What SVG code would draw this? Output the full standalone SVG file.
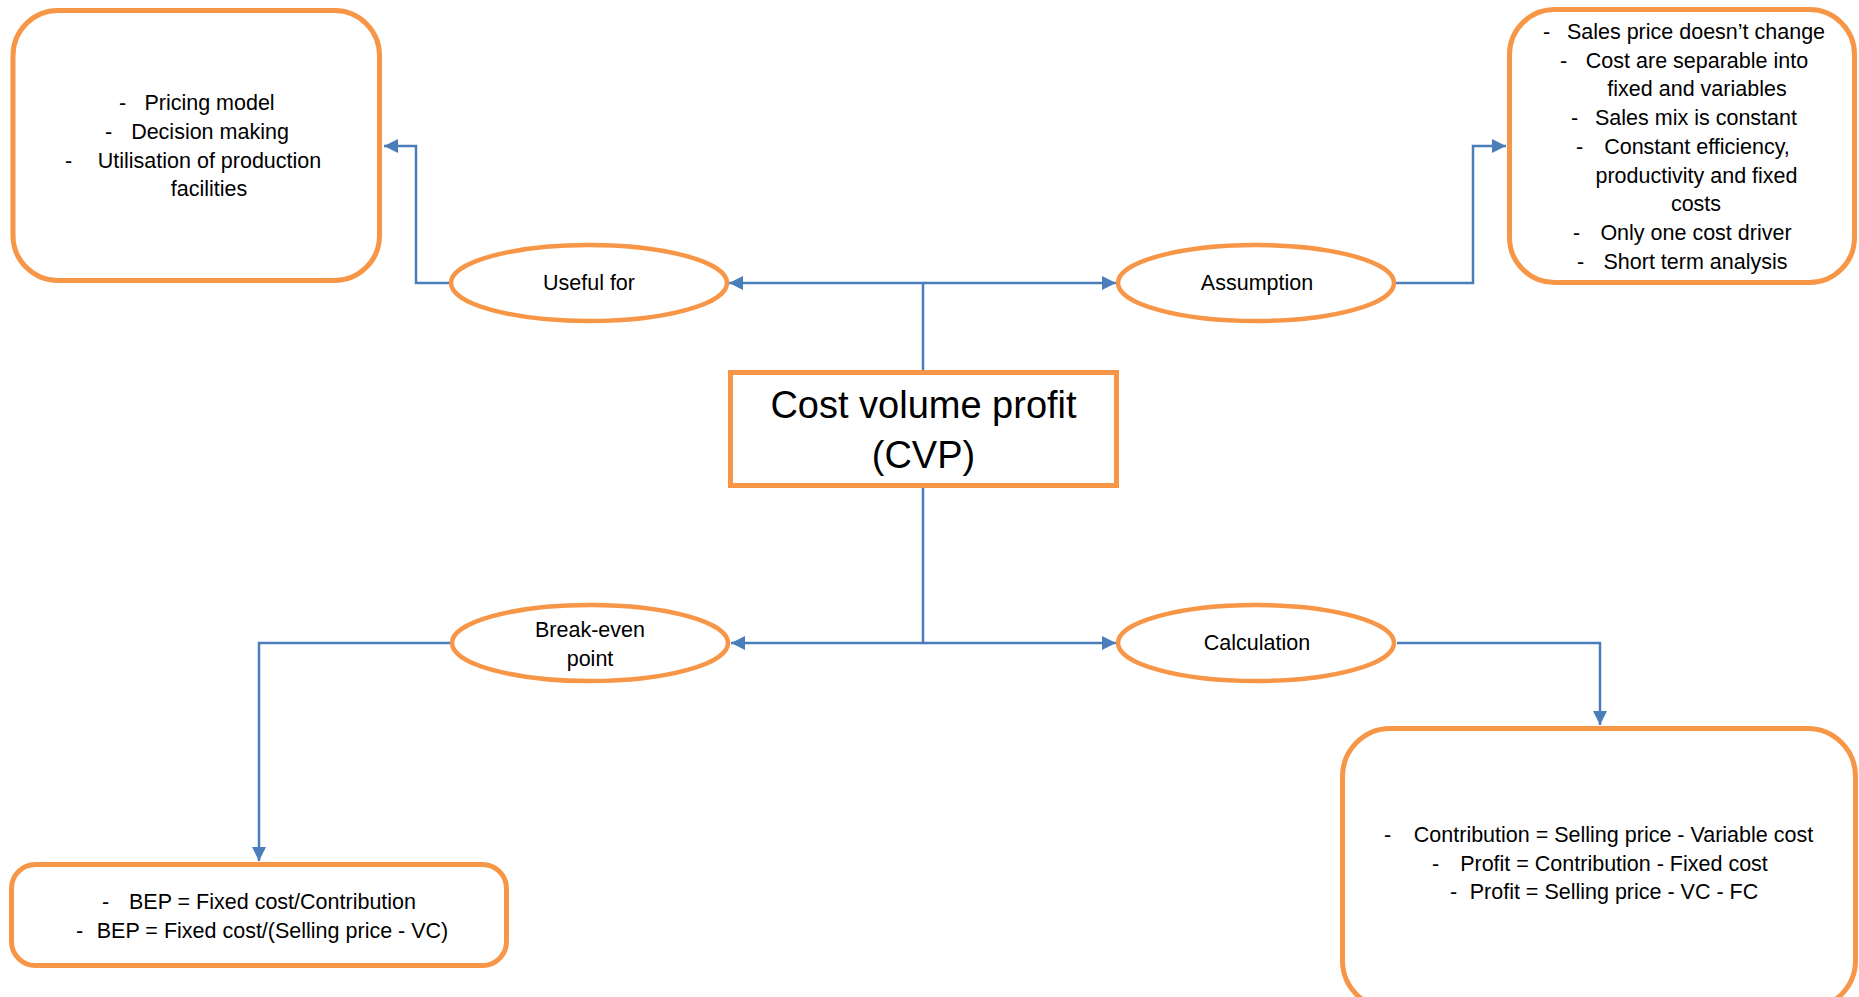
<svg xmlns="http://www.w3.org/2000/svg" width="1859" height="997" viewBox="0 0 1859 997">
<defs>
<style>
.box{fill:#fff;stroke:#F79646;stroke-width:5}
.ell{fill:#fff;stroke:#F79646;stroke-width:4.5}
.con{fill:none;stroke:#4A7EBB;stroke-width:2.5;marker-end:url(#arr)}
text{font-family:"Liberation Sans",Arial,sans-serif;font-size:21.5px;fill:#000}
.m{text-anchor:middle}
.big{font-size:38px}
</style>
<marker id="arr" viewBox="0 0 10 10" refX="10" refY="5" markerWidth="14" markerHeight="14" markerUnits="userSpaceOnUse" orient="auto">
<path d="M0,0 L10,5 L0,10 z" fill="#4A7EBB"/>
</marker>
</defs>
<rect width="1859" height="997" fill="#fff"/>
<g id="connectors">
<path class="con" d="M923,370 V283 H729"/>
<path class="con" d="M923,283 H1116"/>
<path class="con" d="M449,283 H416 V146 H384"/>
<path class="con" d="M1396,283 H1473 V146 H1506"/>
<path class="con" d="M923,488 V643 H731"/>
<path class="con" d="M923,643 H1116"/>
<path class="con" d="M451,643 H259 V861"/>
<path class="con" d="M1397,643 H1600 V725"/>
</g>
<g id="useful-box">
<rect class="box" x="13" y="10.5" width="366.5" height="270" rx="45"/>
<text x="119" y="110">-</text>
<text class="m" x="209.5" y="110">Pricing model</text>
<text x="105" y="139">-</text>
<text class="m" x="210" y="139">Decision making</text>
<text x="65" y="168">-</text>
<text class="m" x="209.5" y="168">Utilisation of production</text>
<text class="m" x="209" y="196">facilities</text>
</g>
<g id="assumption-box">
<rect class="box" x="1509.5" y="9.5" width="345" height="273" rx="45"/>
<text x="1543" y="39">-</text>
<text class="m" x="1696" y="39">Sales price doesn’t change</text>
<text x="1560" y="68">-</text>
<text class="m" x="1697" y="68">Cost are separable into</text>
<text class="m" x="1697" y="96">fixed and variables</text>
<text x="1571" y="125">-</text>
<text class="m" x="1696" y="125">Sales mix is constant</text>
<text x="1576" y="154">-</text>
<text class="m" x="1697" y="154">Constant efficiency,</text>
<text class="m" x="1696.5" y="183">productivity and fixed</text>
<text class="m" x="1696" y="211">costs</text>
<text x="1573" y="240">-</text>
<text class="m" x="1696" y="240">Only one cost driver</text>
<text x="1577" y="269">-</text>
<text class="m" x="1695.5" y="269">Short term analysis</text>
</g>
<g id="useful-for">
<ellipse class="ell" cx="589" cy="283" rx="138" ry="38"/>
<text class="m" x="589" y="290">Useful for</text>
</g>
<g id="assumption">
<ellipse class="ell" cx="1256" cy="283" rx="138" ry="38"/>
<text class="m" x="1257" y="290">Assumption</text>
</g>
<g id="cvp">
<rect class="box" x="730.5" y="372.5" width="386" height="113"/>
<text class="m big" x="923.5" y="418">Cost volume profit</text>
<text class="m big" x="923.5" y="468">(CVP)</text>
</g>
<g id="break-even">
<ellipse class="ell" cx="590" cy="643" rx="138" ry="38"/>
<text class="m" x="590" y="637">Break-even</text>
<text class="m" x="590" y="666">point</text>
</g>
<g id="calculation">
<ellipse class="ell" cx="1256" cy="643" rx="138" ry="38"/>
<text class="m" x="1257" y="650">Calculation</text>
</g>
<g id="bep-box">
<rect class="box" x="11.5" y="864.5" width="495" height="101" rx="24"/>
<text x="102" y="909">-</text>
<text class="m" x="272.5" y="909">BEP = Fixed cost/Contribution</text>
<text x="76" y="938">-</text>
<text class="m" x="272.5" y="938">BEP = Fixed cost/(Selling price - VC)</text>
</g>
<g id="calc-box">
<rect class="box" x="1342.5" y="728.5" width="513" height="280" rx="48"/>
<text x="1384" y="842">-</text>
<text class="m" x="1613.5" y="842">Contribution = Selling price - Variable cost</text>
<text x="1432" y="871">-</text>
<text class="m" x="1614" y="871">Profit = Contribution - Fixed cost</text>
<text x="1450" y="899">-</text>
<text class="m" x="1614" y="899">Profit = Selling price - VC - FC</text>
</g>
</svg>
